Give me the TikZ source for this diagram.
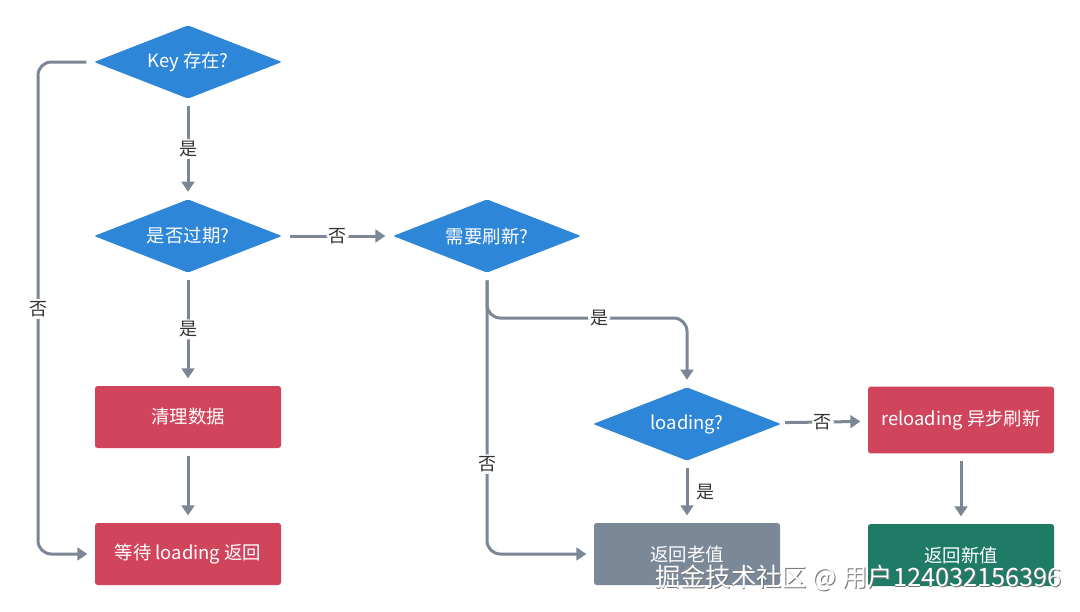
\documentclass[tikz,border=0pt]{standalone}
\usepackage{fontspec}
\setmainfont{Noto Sans CJK SC}
\usetikzlibrary{shapes.geometric,arrows.meta}
\definecolor{dblue}{HTML}{2E86D8}
\definecolor{bred}{HTML}{D1455C}
\definecolor{bgray}{HTML}{7A8898}
\definecolor{bgreen}{HTML}{1F7A66}
\definecolor{lgray}{HTML}{7B8794}
\definecolor{ltext}{HTML}{333333}
\tikzset{
  dia/.style={diamond, aspect=2.5, fill=dblue, text=white, inner sep=0pt, minimum width=141pt, minimum height=55pt, rounded corners=1.5pt, font=\fontsize{13.8pt}{16pt}\selectfont},
  box/.style={rectangle, text=white, inner sep=0pt, minimum width=139.5pt, minimum height=46.5pt, rounded corners=2pt, font=\fontsize{13.8pt}{16pt}\selectfont},
  conn/.style={draw=lgray, line width=2.25pt, -{Triangle[width=9.5pt,length=7.5pt]}, shorten <=5.5pt, shorten >=5.5pt, rounded corners=10pt},
  lbl/.style={fill=white, text=ltext, inner sep=1.5pt, font=\fontsize{13.5pt}{16pt}\selectfont},
}
\begin{document}
\begin{tikzpicture}[x=0.75pt,y=-0.75pt]
\useasboundingbox (0,0) rectangle (1080,611);
\fill[white] (0,0) rectangle (1080,611);

\node[dia] (d1) at (188,62) {Key 存在?};
\node[dia] (d2) at (188,236) {是否过期?};
\node[dia] (d3) at (487,236) {需要刷新?};
\node[dia] (d4) at (687,424) {loading?};

\node[box, fill=bred] (r1) at (188,417) {清理数据};
\node[box, fill=bred] (r2) at (188,554) {等待 loading 返回};
\node[box, fill=bgray] (r3) at (687,554) {返回老值};
\node[box, fill=bred, minimum height=50pt] (r4) at (961,420) {reloading 异步刷新};
\node[box, fill=bgreen] (r5) at (961,555) {返回新值};

\coordinate (cL) at (38,309);
\coordinate (cY) at (599,318);

\draw[conn] (d1) -- node[lbl]{是} (d2);
\draw[conn] (d1.west) -| (cL) node[lbl]{否} |- (r2.west);
\draw[conn] (d2) -- node[lbl]{否} (d3);
\draw[conn] (d2) -- node[lbl]{是} (r1);
\draw[conn] (r1) -- (r2);
\draw[conn] (d3.south) |- (cY) node[lbl]{是} -| (d4.north);
\draw[conn] (d3.south) |- node[lbl, pos=0.34]{否} (r3.west);
\draw[conn] (d4) -- node[lbl]{否} (r4);
\draw[conn] (d4) -- node[right=3pt, text=ltext, font=\fontsize{13.5pt}{16pt}\selectfont]{是} (r3);
\draw[conn] (r4) -- (r5);

\node[text=black!55, inner sep=0pt, font=\fontsize{19pt}{22pt}\selectfont, anchor=east] (wms) at (1062.8,579.2) {掘金技术社区 @ 用户124032156396};
\node[text=white, inner sep=0pt, font=\fontsize{19pt}{22pt}\selectfont, anchor=east] (wm) at (1062,578) {掘金技术社区 @ 用户124032156396};
\end{tikzpicture}
\end{document}
